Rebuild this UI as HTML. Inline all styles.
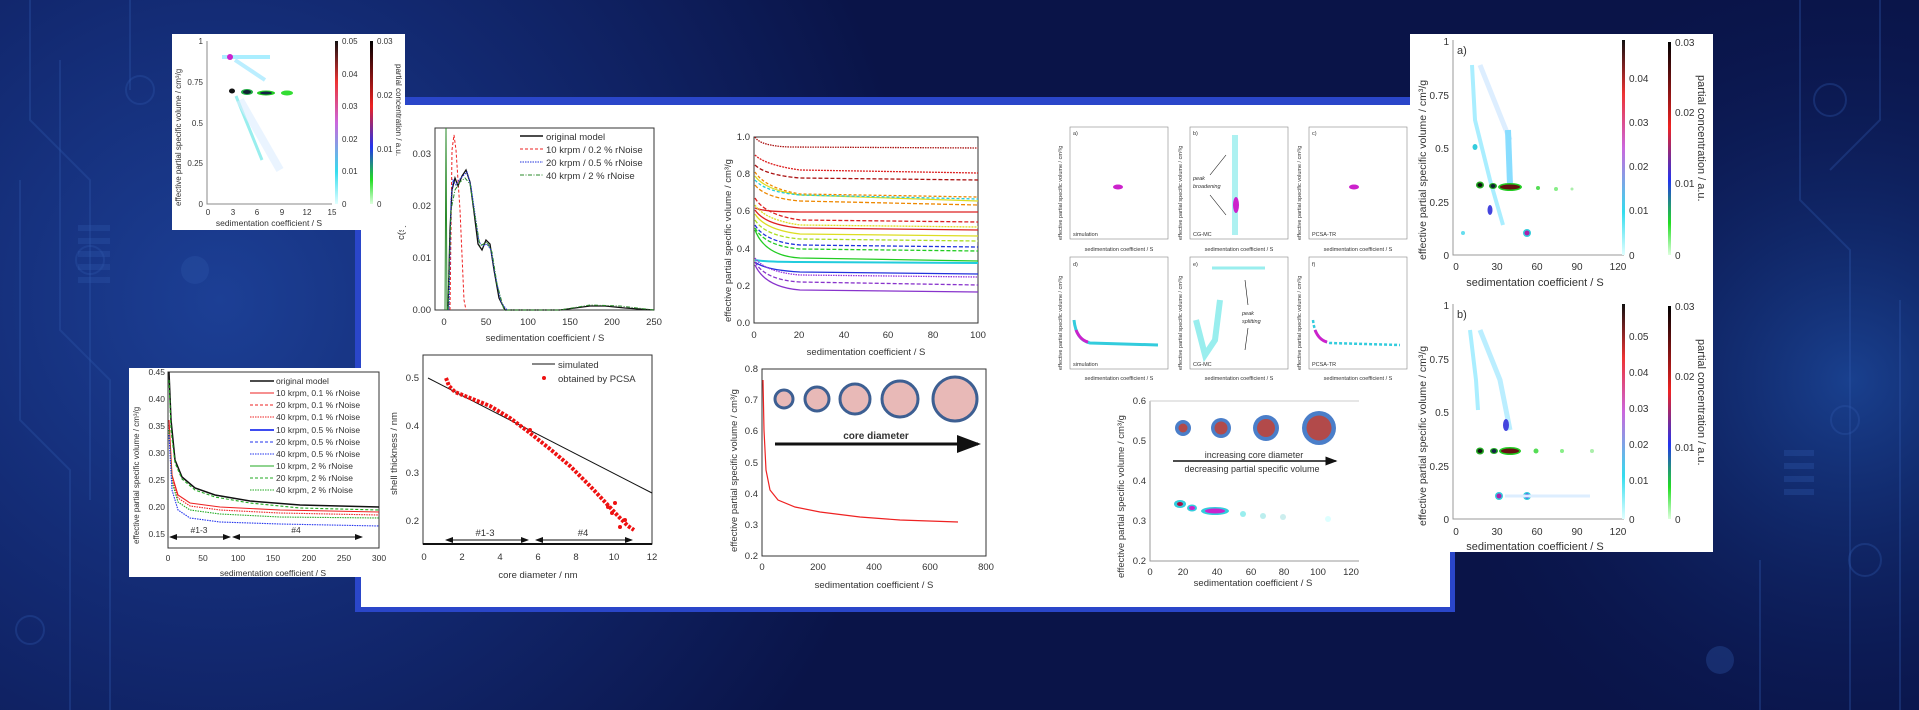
<!DOCTYPE html>
<html><head><meta charset="utf-8"><style>
html,body{margin:0;padding:0;width:1919px;height:710px;overflow:hidden;background:#0b1a5a}
svg{display:block}
text{font-family:"Liberation Sans",sans-serif;fill:#333}
</style></head><body>
<svg width="1919" height="710" viewBox="0 0 1919 710" xmlns="http://www.w3.org/2000/svg">
<defs>
<radialGradient id="bg1" cx="220" cy="300" r="700" gradientUnits="userSpaceOnUse">
<stop offset="0" stop-color="#1c3f95"/><stop offset="0.5" stop-color="#12286f"/><stop offset="1" stop-color="#0a1448"/></radialGradient>
<radialGradient id="bg2" cx="1850" cy="380" r="420" gradientUnits="userSpaceOnUse">
<stop offset="0" stop-color="#1b4596" stop-opacity="0.9"/><stop offset="1" stop-color="#0b1a5a" stop-opacity="0"/></radialGradient>
<linearGradient id="cb1" x1="0" y1="1" x2="0" y2="0"><stop offset="0" stop-color="#e0ffff"/><stop offset="0.2" stop-color="#33ddee"/><stop offset="0.5" stop-color="#cc66dd"/><stop offset="0.75" stop-color="#ee3333"/><stop offset="1" stop-color="#111"/></linearGradient>
<linearGradient id="cb2" x1="0" y1="1" x2="0" y2="0"><stop offset="0" stop-color="#ddffdd"/><stop offset="0.15" stop-color="#22dd22"/><stop offset="0.35" stop-color="#2233ee"/><stop offset="0.6" stop-color="#ee2222"/><stop offset="1" stop-color="#000"/></linearGradient>
<marker id="ah" markerWidth="8" markerHeight="6" refX="7" refY="3" orient="auto"><path d="M0,0 L8,3 L0,6z" fill="#111"/></marker>
<marker id="at" markerWidth="8" markerHeight="6" refX="1" refY="3" orient="auto"><path d="M8,0 L0,3 L8,6z" fill="#111"/></marker>
</defs>
<rect width="1919" height="710" fill="url(#bg1)"/>
<rect width="1919" height="710" fill="url(#bg2)"/>
<g stroke="#2d55a8" stroke-opacity="0.35" fill="none" stroke-width="2">
<path d="M30,0 V120 L90,180 V500"/><path d="M60,60 V330 L110,380 V710"/><path d="M130,0 V90"/><circle cx="140" cy="90" r="14"/>
<path d="M20,180 L20,420 L70,470 V710"/><circle cx="90" cy="260" r="14"/><circle cx="30" cy="630" r="14"/>
<path d="M1800,0 V200 L1850,250 V710"/><path d="M1880,0 V120 L1830,170"/><circle cx="1830" cy="100" r="16"/><circle cx="1845" cy="420" r="14"/><circle cx="1865" cy="560" r="16"/>
<path d="M1760,560 V710"/><path d="M1900,300 V710"/>
</g>
<g fill="#2d55a8" fill-opacity="0.35"><rect x="78" y="225" width="32" height="6"/><rect x="78" y="238" width="32" height="6"/><rect x="78" y="251" width="32" height="6"/><rect x="78" y="264" width="32" height="6"/><rect x="78" y="277" width="32" height="6"/>
<rect x="1784" y="450" width="30" height="6"/><rect x="1784" y="463" width="30" height="6"/><rect x="1784" y="476" width="30" height="6"/><rect x="1784" y="489" width="30" height="6"/><circle cx="195" cy="270" r="14"/><circle cx="1720" cy="660" r="14"/></g>

<!-- main frame -->
<rect x="355" y="97" width="1100" height="515" fill="#2a46c9"/>
<rect x="361" y="105" width="1089" height="502" fill="#fff"/>

<!-- Plot A -->
<g>
<rect x="435" y="128" width="219" height="182" fill="none" stroke="#333" stroke-width="1"/>
<g font-size="9.5" text-anchor="end"><text x="431" y="313">0.00</text><text x="431" y="261">0.01</text><text x="431" y="209">0.02</text><text x="431" y="157">0.03</text></g>
<g font-size="9.5" text-anchor="middle"><text x="444" y="325">0</text><text x="486" y="325">50</text><text x="528" y="325">100</text><text x="570" y="325">150</text><text x="612" y="325">200</text><text x="654" y="325">250</text>
<text x="545" y="341">sedimentation coefficient / S</text></g>
<path d="M445,310 L446,128 L447,310" stroke="#2a8a2a" fill="none"/>
<path d="M450,310 L452,150 L454,135 L456,150 L460,210 L464,300 L466,310" stroke="#e22" stroke-dasharray="3,2" fill="none"/>
<path d="M448,310 L450,230 L452,190 L455,178 L458,186 L462,176 L466,170 L470,182 L474,212 L478,244 L482,250 L486,240 L490,244 L494,270 L499,298 L505,310 L560,310 L575,308 L590,306 L605,306 L625,308 L654,310" stroke="#111" stroke-width="1.3" fill="none"/>
<path d="M449,310 L451,200 L453,180 L456,185 L459,180 L463,176 L467,172 L471,186 L475,214 L479,242 L483,246 L487,244 L491,250 L495,274 L501,302 L507,310" stroke="#23d" stroke-dasharray="1.5,1" fill="none"/>
<path d="M448,310 L451,210 L455,190 L460,182 L465,178 L470,184 L475,216 L480,246 L487,242 L492,252 L497,284 L504,310 L560,310 L590,305 L620,306 L654,310" stroke="#2a8a2a" stroke-dasharray="4,1.5,1,1.5" fill="none"/>
<g font-size="9.5"><path d="M520,136 H543" stroke="#111" stroke-width="1.5"/><text x="546" y="140">original model</text>
<path d="M520,149 H543" stroke="#e22" stroke-dasharray="3,2"/><text x="546" y="153">10 krpm / 0.2 % rNoise</text>
<path d="M520,162 H543" stroke="#23d" stroke-dasharray="1.5,1"/><text x="546" y="166">20 krpm / 0.5 % rNoise</text>
<path d="M520,175 H543" stroke="#2a8a2a" stroke-dasharray="4,1.5,1,1.5"/><text x="546" y="179">40 krpm / 2 % rNoise</text></g>
<text x="404" y="240" font-size="9.5" transform="rotate(-90 404 240)">c(s)</text>
</g>

<!-- Plot B -->
<g>
<rect x="754" y="137" width="224" height="186" fill="none" stroke="#333"/>
<g font-size="9.5" text-anchor="end"><text x="750" y="326">0.0</text><text x="750" y="289">0.2</text><text x="750" y="252">0.4</text><text x="750" y="214">0.6</text><text x="750" y="177">0.8</text><text x="750" y="140">1.0</text></g>
<g font-size="9.5" text-anchor="middle"><text x="754" y="338">0</text><text x="799" y="338">20</text><text x="844" y="338">40</text><text x="888" y="338">60</text><text x="933" y="338">80</text><text x="978" y="338">100</text>
<text x="866" y="355">sedimentation coefficient / S</text></g>
<text x="731" y="322" font-size="9.5" transform="rotate(-90 731 322)">effective partial specific volume / cm³/g</text>
<g fill="none" stroke-width="1.3">
<path d="M755,137 Q760,146 790,147 L978,148" stroke="#a11" stroke-dasharray="1.5,1"/>
<path d="M755,155 Q765,165 800,170 L978,173" stroke="#d22" stroke-dasharray="2,1"/>
<path d="M755,165 Q765,175 800,178 L978,180" stroke="#a11" stroke-dasharray="4,2"/>
<path d="M755,172 Q765,188 800,194 L978,197" stroke="#e80" stroke-dasharray="3,2"/>
<path d="M755,176 Q765,190 800,195 L978,201" stroke="#dd2"/>
<path d="M755,180 Q765,192 800,195 L978,199" stroke="#2cd" stroke-dasharray="3,2"/>
<path d="M755,185 Q765,198 800,201 L978,205" stroke="#e80" stroke-dasharray="4,2"/>
<path d="M755,208 Q765,212 800,212 L978,212" stroke="#d22"/>
<path d="M755,198 Q765,215 800,220 L978,222" stroke="#d22" stroke-dasharray="4,2"/>
<path d="M755,205 Q765,220 800,225 L978,227" stroke="#dd2" stroke-dasharray="2,1"/>
<path d="M755,210 Q765,225 800,228 L978,230" stroke="#d22"/>
<path d="M755,214 Q765,230 800,234 L978,236" stroke="#dd2"/>
<path d="M755,220 Q765,236 800,239 L978,241" stroke="#ad2" stroke-dasharray="4,2"/>
<path d="M755,225 Q765,242 800,245 L978,247" stroke="#23d" stroke-dasharray="4,2"/>
<path d="M755,228 Q765,246 800,249 L978,251" stroke="#2c2" stroke-dasharray="4,2"/>
<path d="M755,230 Q765,256 800,258 L978,261" stroke="#2c2"/>
<path d="M755,260 Q765,262 800,262 L978,263" stroke="#2cd" stroke-width="2"/>
<path d="M755,262 Q765,270 800,272 L978,274" stroke="#23d"/>
<path d="M755,258 Q765,272 800,275 L978,277" stroke="#93d" stroke-dasharray="1.5,1"/>
<path d="M755,262 Q765,280 800,282 L978,285" stroke="#83c" stroke-dasharray="4,2"/>
<path d="M755,265 Q765,287 800,290 L978,292" stroke="#83c"/>
</g>
</g>

<!-- Plot C -->
<g>
<rect x="423" y="355" width="229" height="189" fill="none" stroke="#333"/>
<path d="M423,544 H652" stroke="#111" stroke-width="2"/>
<g font-size="9.5" text-anchor="end"><text x="419" y="381">0.5</text><text x="419" y="429">0.4</text><text x="419" y="476">0.3</text><text x="419" y="524">0.2</text></g>
<g font-size="9.5" text-anchor="middle"><text x="424" y="560">0</text><text x="462" y="560">2</text><text x="500" y="560">4</text><text x="538" y="560">6</text><text x="576" y="560">8</text><text x="614" y="560">10</text><text x="652" y="560">12</text>
<text x="538" y="578">core diameter / nm</text></g>
<text x="397" y="495" font-size="9.5" transform="rotate(-90 397 495)">shell thickness / nm</text>
<path d="M428,378 L652,493" stroke="#111" fill="none"/>
<path d="M446,378 L449,386 L455,392 L470,398 L490,406 L510,418 L530,433 L550,449 L570,466 L590,486 L605,502 L618,516 L628,526 L634,530" stroke="#e11" stroke-width="4" fill="none" stroke-dasharray="3,1.5"/>
<g fill="#e11"><circle cx="608" cy="507" r="2"/><circle cx="612" cy="513" r="2"/><circle cx="615" cy="503" r="2"/><circle cx="625" cy="520" r="2"/><circle cx="620" cy="527" r="2"/><circle cx="530" cy="430" r="2"/></g>
<path d="M446,540 L528,540" stroke="#111" marker-start="url(#at)" marker-end="url(#ah)"/>
<path d="M536,540 L632,540" stroke="#111" marker-start="url(#at)" marker-end="url(#ah)"/>
<text x="485" y="536" font-size="9.5" text-anchor="middle">#1-3</text><text x="583" y="536" font-size="9.5" text-anchor="middle">#4</text>
<path d="M532,364 H555" stroke="#111"/><text x="558" y="368" font-size="9.5">simulated</text>
<circle cx="544" cy="378" r="2" fill="#e11"/><text x="558" y="382" font-size="9.5">obtained by PCSA</text>
</g>

<!-- Plot D -->
<g>
<rect x="762" y="369" width="224" height="187" fill="none" stroke="#333"/>
<g font-size="9.5" text-anchor="end"><text x="758" y="372">0.8</text><text x="758" y="403">0.7</text><text x="758" y="434">0.6</text><text x="758" y="466">0.5</text><text x="758" y="497">0.4</text><text x="758" y="528">0.3</text><text x="758" y="559">0.2</text></g>
<g font-size="9.5" text-anchor="middle"><text x="762" y="570">0</text><text x="818" y="570">200</text><text x="874" y="570">400</text><text x="930" y="570">600</text><text x="986" y="570">800</text>
<text x="874" y="588">sedimentation coefficient / S</text></g>
<text x="737" y="552" font-size="9.5" transform="rotate(-90 737 552)">effective partial specific volume / cm³/g</text>
<path d="M763,380 L764,430 L766,470 L770,490 L778,500 L795,507 L820,512 L860,517 L900,520 L958,522" stroke="#e22" fill="none" stroke-width="1.2"/>
<g fill="#e8b9b7" stroke="#3d5f92" stroke-width="3"><circle cx="784" cy="399" r="9"/><circle cx="817" cy="399" r="12"/><circle cx="855" cy="399" r="15"/><circle cx="900" cy="399" r="18"/><circle cx="955" cy="399" r="22"/></g>
<text x="876" y="439" font-size="10" font-weight="bold" text-anchor="middle" fill="#222">core diameter</text>
<path d="M775,444 L978,444" stroke="#111" stroke-width="3" marker-end="url(#ah)"/>
</g>

<!-- six small panels -->
<g font-size="5.5">
<g><rect x="1070" y="127" width="98" height="112" fill="none" stroke="#888" stroke-width="0.6"/><text x="1073" y="135">a)</text><text x="1073" y="236">simulation</text><ellipse cx="1118" cy="187" rx="5" ry="2.5" fill="#c2c"/></g>
<g><rect x="1190" y="127" width="98" height="112" fill="none" stroke="#888" stroke-width="0.6"/><text x="1193" y="135">b)</text><text x="1193" y="236">CG-MC</text><rect x="1232" y="135" width="6" height="100" fill="#9ee" opacity="0.8"/><ellipse cx="1236" cy="205" rx="3" ry="8" fill="#c2c"/><text x="1193" y="180" font-style="italic">peak</text><text x="1193" y="188" font-style="italic">broadening</text><path d="M1210,175 L1226,155 M1210,195 L1226,215" stroke="#111" stroke-width="0.6"/></g>
<g><rect x="1309" y="127" width="98" height="112" fill="none" stroke="#888" stroke-width="0.6"/><text x="1312" y="135">c)</text><text x="1312" y="236">PCSA-TR</text><ellipse cx="1354" cy="187" rx="5" ry="2.5" fill="#c2c"/></g>
<g><rect x="1070" y="257" width="98" height="112" fill="none" stroke="#888" stroke-width="0.6"/><text x="1073" y="266">d)</text><text x="1073" y="366">simulation</text><path d="M1074,320 Q1076,340 1090,343 L1158,345" stroke="#3cd" stroke-width="3" fill="none"/><path d="M1076,330 Q1080,340 1088,342" stroke="#c2c" stroke-width="3" fill="none"/></g>
<g><rect x="1190" y="257" width="98" height="112" fill="none" stroke="#888" stroke-width="0.6"/><text x="1193" y="266">e)</text><text x="1193" y="366">CG-MC</text><path d="M1196,320 L1205,355 L1215,340 L1220,300" stroke="#9ee" stroke-width="6" fill="none"/><path d="M1212,268 H1265" stroke="#9ee" stroke-width="3"/><text x="1242" y="315" font-style="italic">peak</text><text x="1242" y="323" font-style="italic">splitting</text><path d="M1248,305 L1245,280 M1248,328 L1245,350" stroke="#111" stroke-width="0.6"/></g>
<g><rect x="1309" y="257" width="98" height="112" fill="none" stroke="#888" stroke-width="0.6"/><text x="1312" y="266">f)</text><text x="1312" y="366">PCSA-TR</text><path d="M1313,320 Q1315,340 1330,343 L1400,345" stroke="#3cd" stroke-width="2.5" fill="none" stroke-dasharray="3,2"/><path d="M1315,330 Q1319,340 1327,342" stroke="#c2c" stroke-width="3" fill="none"/></g>
<g fill="#444"><text x="1119" y="251" text-anchor="middle">sedimentation coefficient / S</text><text x="1239" y="251" text-anchor="middle">sedimentation coefficient / S</text><text x="1358" y="251" text-anchor="middle">sedimentation coefficient / S</text>
<text x="1119" y="380" text-anchor="middle">sedimentation coefficient / S</text><text x="1239" y="380" text-anchor="middle">sedimentation coefficient / S</text><text x="1358" y="380" text-anchor="middle">sedimentation coefficient / S</text>
<text x="1062" y="240" transform="rotate(-90 1062 240)">effective partial specific volume / cm³/g</text><text x="1182" y="240" transform="rotate(-90 1182 240)">effective partial specific volume / cm³/g</text><text x="1301" y="240" transform="rotate(-90 1301 240)">effective partial specific volume / cm³/g</text>
<text x="1062" y="370" transform="rotate(-90 1062 370)">effective partial specific volume / cm³/g</text><text x="1182" y="370" transform="rotate(-90 1182 370)">effective partial specific volume / cm³/g</text><text x="1301" y="370" transform="rotate(-90 1301 370)">effective partial specific volume / cm³/g</text></g>
</g>

<!-- Plot E -->
<g>
<path d="M1150,401 V561 H1359" stroke="#999" fill="none"/><path d="M1150,401 H1359" stroke="#ccc"/>
<g font-size="9.5" text-anchor="end" fill="#555"><text x="1146" y="404">0.6</text><text x="1146" y="444">0.5</text><text x="1146" y="484">0.4</text><text x="1146" y="524">0.3</text><text x="1146" y="564">0.2</text></g>
<g font-size="9.5" text-anchor="middle"><text x="1150" y="575">0</text><text x="1183" y="575">20</text><text x="1217" y="575">40</text><text x="1251" y="575">60</text><text x="1284" y="575">80</text><text x="1318" y="575">100</text><text x="1351" y="575">120</text>
<text x="1253" y="586">sedimentation coefficient / S</text></g>
<text x="1124" y="578" font-size="9.5" transform="rotate(-90 1124 578)">effective partial specific volume / cm³/g</text>
<g fill="#4a7ec9"><circle cx="1183" cy="428" r="8"/><circle cx="1221" cy="428" r="10"/><circle cx="1266" cy="428" r="13"/><circle cx="1319" cy="428" r="17"/></g>
<g fill="#b24a4a"><circle cx="1183" cy="428" r="4.5"/><circle cx="1221" cy="428" r="6.5"/><circle cx="1266" cy="428" r="9"/><circle cx="1319" cy="428" r="12.5"/></g>
<text x="1254" y="458" font-size="9" text-anchor="middle" fill="#555">increasing core diameter</text>
<path d="M1173,461 L1336,461" stroke="#111" stroke-width="1.5" marker-end="url(#ah)"/>
<text x="1252" y="472" font-size="9" text-anchor="middle" fill="#555">decreasing partial specific volume</text>
<g><ellipse cx="1180" cy="504" rx="6" ry="4" fill="#3cd"/><ellipse cx="1180" cy="504" rx="3" ry="2" fill="#a14"/><ellipse cx="1192" cy="508" rx="5" ry="3.5" fill="#3cd"/><ellipse cx="1192" cy="508" rx="3" ry="2" fill="#c2c"/><ellipse cx="1215" cy="511" rx="14" ry="4" fill="#3cd"/><ellipse cx="1215" cy="511" rx="10" ry="2.5" fill="#c2c"/><circle cx="1243" cy="514" r="3" fill="#9ee"/><circle cx="1263" cy="516" r="3" fill="#bee"/><circle cx="1283" cy="517" r="3" fill="#cee"/><circle cx="1328" cy="519" r="3" fill="#dff"/></g>
</g>

<!-- top-left inset -->
<g>
<rect x="172" y="34" width="233" height="196" fill="#fff"/>
<path d="M207,41 V204 H332" stroke="#888" fill="none"/>
<g font-size="8" text-anchor="end" fill="#555"><text x="203" y="44">1</text><text x="203" y="85">0.75</text><text x="203" y="126">0.5</text><text x="203" y="166">0.25</text><text x="203" y="207">0</text></g>
<g font-size="8" text-anchor="middle" fill="#555"><text x="208" y="215">0</text><text x="233" y="215">3</text><text x="257" y="215">6</text><text x="282" y="215">9</text><text x="307" y="215">12</text><text x="332" y="215">15</text></g>
<text x="269" y="226" font-size="8.5" text-anchor="middle">sedimentation coefficient / S</text>
<text x="181" y="206" font-size="8" transform="rotate(-90 181 206)">effective partial specific volume / cm³/g</text>
<path d="M222,57 H270" stroke="#aef" stroke-width="4"/><path d="M235,60 L265,80" stroke="#bef" stroke-width="4"/><path d="M236,96 L262,160" stroke="#9ee" stroke-width="3"/><path d="M240,100 L280,170" stroke="#def" stroke-width="8" opacity="0.6"/>
<circle cx="230" cy="57" r="3" fill="#c2c"/>
<ellipse cx="232" cy="91" rx="3" ry="2.5" fill="#111"/><ellipse cx="247" cy="92" rx="6" ry="3" fill="#2a4"/><ellipse cx="247" cy="92" rx="4" ry="2" fill="#123"/><ellipse cx="266" cy="93" rx="9" ry="2.5" fill="#2c2"/><ellipse cx="266" cy="93" rx="6" ry="1.5" fill="#124"/><ellipse cx="287" cy="93" rx="6" ry="2.5" fill="#3d3"/>
<rect x="335" y="41" width="3" height="163" fill="url(#cb1)"/>
<g font-size="8" fill="#555"><text x="342" y="44">0.05</text><text x="342" y="77">0.04</text><text x="342" y="109">0.03</text><text x="342" y="142">0.02</text><text x="342" y="174">0.01</text><text x="342" y="207">0</text>
<text x="377" y="44">0.03</text><text x="377" y="98">0.02</text><text x="377" y="152">0.01</text><text x="377" y="207">0</text></g>
<rect x="370" y="41" width="3" height="163" fill="url(#cb2)"/>
<text x="396" y="64" font-size="8" transform="rotate(90 396 64)">partial concentration / a.u.</text>
</g>

<!-- bottom-left inset -->
<g>
<rect x="129" y="368" width="258" height="209" fill="#fff"/>
<rect x="168" y="372" width="211" height="176" fill="none" stroke="#333"/>
<g font-size="8.5" text-anchor="end" fill="#444"><text x="165" y="375">0.45</text><text x="165" y="402">0.40</text><text x="165" y="429">0.35</text><text x="165" y="456">0.30</text><text x="165" y="483">0.25</text><text x="165" y="510">0.20</text><text x="165" y="537">0.15</text></g>
<g font-size="8.5" text-anchor="middle" fill="#444"><text x="168" y="561">0</text><text x="203" y="561">50</text><text x="238" y="561">100</text><text x="273" y="561">150</text><text x="309" y="561">200</text><text x="344" y="561">250</text><text x="379" y="561">300</text>
<text x="273" y="576">sedimentation coefficient / S</text></g>
<text x="139" y="544" font-size="8" transform="rotate(-90 139 544)">effective partial specific volume / cm³/g</text>
<g fill="none" stroke-width="1.1">
<path d="M169,372 L171,420 L175,460 L182,477 L195,488 L215,495 L250,501 L300,505 L379,507" stroke="#111" stroke-width="1.5"/>
<path d="M169,380 L171,430 L175,463 L182,479 L195,490 L215,497 L250,503 L300,508 L379,510" stroke="#2a2" stroke-dasharray="3,2"/>
<path d="M169,420 L172,475 L178,495 L190,503 L220,507 L280,510 L379,512" stroke="#e22"/>
<path d="M169,425 L172,478 L178,498 L190,506 L220,510 L280,513 L379,515" stroke="#e22" stroke-dasharray="1.5,1"/>
<path d="M169,430 L172,482 L178,502 L190,510 L220,514 L280,517 L379,518" stroke="#2a2" stroke-dasharray="1.5,1"/>
<path d="M169,435 L172,490 L178,510 L190,518 L220,522 L280,524 L379,526" stroke="#23e" stroke-dasharray="1.5,1"/>
</g>
<path d="M170,537 L230,537" stroke="#111" marker-start="url(#at)" marker-end="url(#ah)"/><path d="M233,537 L362,537" stroke="#111" marker-start="url(#at)" marker-end="url(#ah)"/>
<text x="199" y="533" font-size="8.5" text-anchor="middle">#1-3</text><text x="296" y="533" font-size="8.5" text-anchor="middle">#4</text>
<g font-size="8.5">
<path d="M250,381 H274" stroke="#111" stroke-width="1.5"/><text x="276" y="384">original model</text>
<path d="M250,393 H274" stroke="#e22"/><text x="276" y="396">10 krpm, 0.1 % rNoise</text>
<path d="M250,405 H274" stroke="#e22" stroke-dasharray="3,2"/><text x="276" y="408">20 krpm, 0.1 % rNoise</text>
<path d="M250,417 H274" stroke="#e22" stroke-dasharray="1.5,1"/><text x="276" y="420">40 krpm, 0.1 % rNoise</text>
<path d="M250,430 H274" stroke="#23e" stroke-width="1.8"/><text x="276" y="433">10 krpm, 0.5 % rNoise</text>
<path d="M250,442 H274" stroke="#23e" stroke-dasharray="3,2"/><text x="276" y="445">20 krpm, 0.5 % rNoise</text>
<path d="M250,454 H274" stroke="#23e" stroke-dasharray="1.5,1"/><text x="276" y="457">40 krpm, 0.5 % rNoise</text>
<path d="M250,466 H274" stroke="#2a2"/><text x="276" y="469">10 krpm, 2 % rNoise</text>
<path d="M250,478 H274" stroke="#2a2" stroke-dasharray="3,2"/><text x="276" y="481">20 krpm, 2 % rNoise</text>
<path d="M250,490 H274" stroke="#2a2" stroke-dasharray="1.5,1"/><text x="276" y="493">40 krpm, 2 % rNoise</text>
</g>
</g>

<!-- right inset -->
<g>
<rect x="1410" y="34" width="303" height="518" fill="#fff"/>
<g stroke="#999" fill="none"><path d="M1453,40 V255 H1624"/><path d="M1453,304 V519 H1624"/></g>
<g font-size="10" text-anchor="end" fill="#444"><text x="1449" y="45">1</text><text x="1449" y="99">0.75</text><text x="1449" y="152">0.5</text><text x="1449" y="206">0.25</text><text x="1449" y="259">0</text>
<text x="1449" y="309">1</text><text x="1449" y="363">0.75</text><text x="1449" y="416">0.5</text><text x="1449" y="470">0.25</text><text x="1449" y="523">0</text></g>
<g font-size="10" text-anchor="middle" fill="#444"><text x="1456" y="270">0</text><text x="1497" y="270">30</text><text x="1537" y="270">60</text><text x="1577" y="270">90</text><text x="1618" y="270">120</text>
<text x="1456" y="535">0</text><text x="1497" y="535">30</text><text x="1537" y="535">60</text><text x="1577" y="535">90</text><text x="1618" y="535">120</text>
<text x="1535" y="286" font-size="11">sedimentation coefficient / S</text><text x="1535" y="550" font-size="11">sedimentation coefficient / S</text></g>
<text x="1426" y="260" font-size="10.5" transform="rotate(-90 1426 260)">effective partial specific volume / cm³/g</text>
<text x="1426" y="526" font-size="10.5" transform="rotate(-90 1426 526)">effective partial specific volume / cm³/g</text>
<text x="1457" y="54" font-size="11">a)</text><text x="1457" y="318" font-size="11">b)</text>
<path d="M1472,65 L1475,120 L1490,180 L1503,225" stroke="#aef" stroke-width="4" fill="none"/>
<path d="M1480,65 L1498,110 L1510,140" stroke="#def" stroke-width="5" fill="none"/>
<path d="M1508,130 L1510,185" stroke="#8df" stroke-width="6" fill="none"/>
<ellipse cx="1475" cy="147" rx="2.5" ry="3" fill="#3cd"/>
<ellipse cx="1490" cy="210" rx="2.5" ry="5" fill="#44d"/>
<ellipse cx="1480" cy="185" rx="4" ry="3.5" fill="#2a2"/><ellipse cx="1480" cy="185" rx="2.5" ry="2" fill="#111"/>
<ellipse cx="1493" cy="186" rx="4" ry="3" fill="#2a2"/><ellipse cx="1493" cy="186" rx="2.5" ry="2" fill="#123"/>
<ellipse cx="1510" cy="187" rx="12" ry="4" fill="#2c2"/><ellipse cx="1510" cy="187" rx="10" ry="2.5" fill="#611"/>
<circle cx="1538" cy="188" r="2" fill="#5d5"/><circle cx="1556" cy="189" r="2" fill="#8e8"/><circle cx="1572" cy="189" r="1.5" fill="#aea"/>
<circle cx="1463" cy="233" r="2" fill="#6de"/><circle cx="1527" cy="233" r="4" fill="#3cd"/><circle cx="1527" cy="233" r="2.5" fill="#a2a"/>
<path d="M1470,330 L1476,380 L1478,410" stroke="#aef" stroke-width="4" fill="none"/>
<path d="M1480,330 L1500,380 L1510,430" stroke="#bef" stroke-width="5" fill="none"/>
<ellipse cx="1506" cy="425" rx="3" ry="6" fill="#44d"/>
<ellipse cx="1480" cy="451" rx="4" ry="3.5" fill="#2a2"/><ellipse cx="1480" cy="451" rx="2.5" ry="2" fill="#111"/>
<ellipse cx="1494" cy="451" rx="4" ry="3" fill="#2a2"/><ellipse cx="1494" cy="451" rx="2.5" ry="2" fill="#124"/>
<ellipse cx="1510" cy="451" rx="11" ry="4" fill="#2c2"/><ellipse cx="1510" cy="451" rx="9" ry="2.5" fill="#611"/>
<circle cx="1536" cy="451" r="2.5" fill="#5d5"/><circle cx="1562" cy="451" r="2" fill="#8e8"/><circle cx="1592" cy="451" r="2" fill="#aea"/>
<circle cx="1499" cy="496" r="4" fill="#3cd"/><circle cx="1499" cy="496" r="2.5" fill="#a2a"/><circle cx="1527" cy="496" r="4" fill="#3cd"/><circle cx="1527" cy="496" r="2.5" fill="#44d"/><path d="M1505,496 H1590" stroke="#def" stroke-width="3"/>
<rect x="1622" y="40" width="3" height="215" fill="url(#cb1)"/><rect x="1622" y="304" width="3" height="215" fill="url(#cb1)"/>
<rect x="1668" y="42" width="3" height="213" fill="url(#cb2)"/><rect x="1668" y="306" width="3" height="213" fill="url(#cb2)"/>
<g font-size="10" fill="#444"><text x="1629" y="82">0.04</text><text x="1629" y="126">0.03</text><text x="1629" y="170">0.02</text><text x="1629" y="214">0.01</text><text x="1629" y="259">0</text>
<text x="1629" y="340">0.05</text><text x="1629" y="376">0.04</text><text x="1629" y="412">0.03</text><text x="1629" y="448">0.02</text><text x="1629" y="484">0.01</text><text x="1629" y="523">0</text>
<text x="1675" y="46">0.03</text><text x="1675" y="116">0.02</text><text x="1675" y="187">0.01</text><text x="1675" y="259">0</text>
<text x="1675" y="310">0.03</text><text x="1675" y="380">0.02</text><text x="1675" y="451">0.01</text><text x="1675" y="523">0</text></g>
<text x="1698" y="75" font-size="11" transform="rotate(90 1698 75)">partial concentration / a.u.</text>
<text x="1698" y="339" font-size="11" transform="rotate(90 1698 339)">partial concentration / a.u.</text>
</g>
</svg>
</body></html>
